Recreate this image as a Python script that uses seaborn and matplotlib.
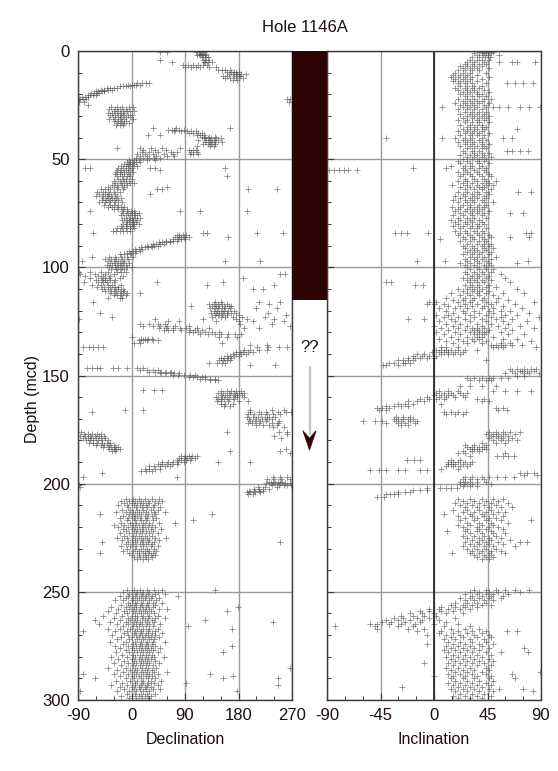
import matplotlib
matplotlib.use("Agg")
import matplotlib.pyplot as plt
import seaborn as sns
import pandas as pd
from matplotlib.ticker import MultipleLocator
from matplotlib.patches import Polygon

TITLE = "Hole 1146A"
dec_ticks = [-90, 0, 90, 180, 270]
inc_ticks = [-90, -45, 0, 45, 90]
depth_ticks = [0, 50, 100, 150, 200, 250, 300]
dark_interval = [0, 115]          # depth range of the dark column
query_label = "??"

# declination: (depth, [declinations])
dec_rows = [
    (0.3, [108, 115, 122, 48, 60]), (1.2, [113, 119, 126, 117]), (2.0, [110, 121, 116, 124]),
    (3.0, [118, 123, 128]), (4.2, [120, 126, 131, 48]), (5.3, [124, 129, 122, 68, 135]),
    (6.4, [86, 95, 104, 112, 120, 127]), (7.5, [90, 100, 108, 116, 130, 142]),
    (8.6, [145, 152, 158, 166]), (9.6, [160, 168, 172, 175, 181]),
    (10.5, [164, 170, 176, 178, 185, 192]), (11.4, [154, 160, 172, 180, 183]),
    (12.5, [158, 165, 176, 188]), (13.3, [170, 178]),
    (14.8, [10, 18, 25, 30]), (15.5, [-6, 0, 4, 8, 14]), (16.2, [-20, -14, -9, -3]),
    (17.0, [-42, -36, -30, -25]), (17.8, [-52, -47, -40, -33]), (18.6, [-60, -56, -50, -46]),
    (19.5, [-68, -63, -58, -54]), (20.3, [-74, -70, -65, -60]), (21.3, [-84, -79, -73]),
    (22.4, [-89, -86, -82, -77, 262, 267]), (23.6, [-88, -80, 265]), (24.8, [-74]),
    (26.0, [-35, -24, -16, -5, 2]), (27.0, [-38, -28, -20, -10]),
    (27.9, [-30, -22, -15, -8, -2, 4]), (28.8, [-40, -33, -25, -18, -12]),
    (29.6, [-36, -27, -20, -14, -6, 0]), (30.5, [-31, -23, -17, -10, -3]),
    (31.4, [-38, -28, -19, -12, 3]), (32.3, [-30, -22, -16, -9]),
    (33.2, [-25, -18, -13, -5]), (34.2, [-26, -20, -14]),
    (35.6, [36, 166, 75]), (36.4, [62, 68, 74, 80, 88]), (37.2, [72, 84, 94, 100, 108]),
    (38.0, [96, 104, 112, 118]), (38.8, [110, 116, 122, 48, 28]), (39.6, [118, 124, 130, 140]),
    (40.4, [122, 128, 134, 142, 150]), (41.3, [126, 132, 138, 146, 112]),
    (42.2, [124, 130, 135, 141, 152]), (43.1, [128, 134, 140, 120]), (44.0, [132, 138, 110]),
    (45.0, [-24, 14, 32, 52, 82]), (45.8, [20, 40, 58, 96, 104, 108]),
    (46.7, [18, 30, 44, 66, 76, 100, 110]), (47.6, [10, 22, 36, 54, 70, 98, 104, 112]),
    (48.5, [14, 26, 42, 60, 72]), (49.4, [8, 20, 30, 38, 48]), (50.3, [-4, 4, 12, 26, 40]),
    (51.2, [-8, -3, 2, 8, 14]), (52.1, [-12, -6, -2, 4]), (53.0, [-18, -10, -4, 2, 9]),
    (54.0, [-78, -70, -22, -14, -6, 0, 31, 40, 157]), (55.0, [-25, -17, -10, -3, 48]),
    (56.0, [-26, -19, -12, -6, 2]), (57.0, [-28, -20, -13, -4]),
    (58.0, [-24, -16, -8, -2, 160]), (59.0, [-22, -15, -9, 1]), (60.0, [-30, -20, -12, -5]),
    (61.0, [-27, -18, -10, -2, 5]), (62.0, [-33, -24, -16, -8]),
    (63.0, [-40, -30, -22, -12, 60]), (64.0, [-52, -44, -36, -24, -14, 43, 52, 196, 245]),
    (65.0, [-58, -48, -40, -30, -20]), (66.0, [-55, -45, -38, -28, 31]),
    (67.0, [-60, -50, -42, -34, -24]), (68.0, [-48, -40, -32, -26, -18]),
    (69.0, [-50, -43, -36, -30, -22]), (70.0, [-54, -44, -38, -28, -16]),
    (71.0, [-46, -36, -30, -22]), (72.0, [-40, -32, -24, -18, -12]), (73.0, [-30, -22, -14, -7]),
    (74.0, [-70, -16, -8, -1, 5, 82, 115, 194]), (75.0, [-14, -6, 0, 6, 12]),
    (76.0, [-18, -10, -3, 4, 10]), (77.0, [-12, -5, 0, 6, 14]), (78.0, [-16, -8, -2, 3, 9]),
    (79.0, [-10, -4, 2, 8]), (80.0, [-14, -7, 0, 5, 12]), (81.0, [-18, -10, -3, 3]),
    (82.0, [-24, -16, -9, -2, 4]), (83.0, [-31, -26, -20, -14, -8, -2]),
    (84.0, [-65, 120, 127, 211, 255]), (85.0, [76, 80, 86, 92]),
    (86.0, [74, 80, 84, 88, 96, 162]), (86.8, [70, 78, 83, 90]), (87.6, [58, 64, 70, 76]),
    (88.4, [46, 52, 58, 64]), (89.2, [36, 42, 48, 54]), (90.0, [26, 32, 38, 44]),
    (90.8, [16, 22, 28, 34]), (91.6, [6, 12, 18]), (92.4, [-4, 2, 8, 14]), (93.2, [-8, -1, 6]),
    (94.0, [-20, -12, -2]), (95.0, [-66, -38, -28, -18, -8, 2]), (96.0, [-44, -34, -26, -16, -6]),
    (97.0, [-83, -40, -30, -22, -12, 157, 216]), (98.0, [-36, -28, -20, -14, -4]),
    (99.0, [-42, -32, -24, -18, -10]), (100.0, [-38, -28, -22, -16, -8, 0]),
    (101.0, [-34, -26, -20, -12]), (102.0, [-89, -70, -52, -40, -24, -18, -10]),
    (103.0, [-86, -62, -44, -30, 250, 258]), (104.0, [-78, -56, -48, -36, -14]),
    (105.0, [-70, -52, -44, -38, -20, 188]), (106.0, [-60, -50, -44, -36, -28]),
    (107.0, [-80, -56, -48, -42, -30, 43, 154]), (108.0, [-66, -52, -40, -32, -18, 127, 240]),
    (109.0, [-58, -46, -36, -28, -22]), (110.0, [-50, -40, -30, -22, -14, 221, 205]),
    (111.0, [-44, -34, -26, -18, -12]), (112.0, [-36, -28, -20, -14, -8, 14]),
    (113.0, [-30, -24, -18, -10]), (114.0, [-40, -20, -16]),
    (116.0, [-64, 140, 150, 215, 250]), (117.0, [130, 138, 146, 152, 160, 232]),
    (118.0, [136, 142, 148, 156, 164, 168, 100]), (119.0, [132, 140, 146, 152, 158, 166, 210, 245]),
    (120.0, [138, 144, 150, 156, 162, 172]), (121.0, [-53, 134, 142, 148, 154, 160, 168, 176, 230]),
    (122.0, [140, 146, 152, 160, 180, 260]), (123.0, [-33, 136, 150, 158, 170, 186, 224]),
    (124.0, [-89, 40, 120, 176, 194, 240]), (125.0, [62, 80, 142, 180, 205, 256]),
    (126.0, [14, 30, 44, 56, 183, 236]), (127.0, [20, 36, 48, 60, 74, 96, 266]),
    (128.0, [46, 58, 70, 82, 92, 110, 130, 190, 215]), (129.0, [54, 62, 70, 84, 98, 106, 118]),
    (130.0, [96, 104, 112, 124, 136, 148]), (131.0, [116, 128, 140, 150, 162, 174, 184]),
    (132.0, [0, 148, 160, 178]), (133.0, [16, 22, 28, 34]), (133.8, [12, 20, 26, 36, 44]),
    (135.0, [4, 14, 152]), (136.0, [200, 228]),
    (137.0, [-81, -72, -64, -56, -48, 211, 230, 248, 262]), (138.0, [190, 200, 215, 228]),
    (139.0, [176, 182, 188, 196, 204]), (140.0, [170, 176, 184, 192]),
    (141.0, [160, 166, 172, 180]), (142.0, [150, 156, 162, 168]), (143.0, [148, 154, 160, 166]),
    (144.0, [144, 152, 158, 130]), (145.0, [200, 242]),
    (146.6, [-75, -66, -58, -53, -31, -22, -8, 9, 20]), (147.4, [14, 26, 36, 44]),
    (148.2, [30, 40, 50, 58, 66]), (149.0, [48, 56, 64, 72, 80]), (149.8, [70, 78, 88, 98, 106]),
    (150.6, [96, 104, 110, 118, 124]), (151.4, [116, 124, 132, 140]), (152.2, [132, 140, 146]),
    (156.5, [20, 38, 52]), (157.0, [150, 160, 168, 176, 184]),
    (158.0, [146, 154, 164, 172, 180, 190]), (159.0, [150, 158, 166, 174, 178, 186]),
    (160.0, [142, 152, 160, 170, 178, 190]), (161.0, [146, 150, 156, 164, 172]),
    (162.0, [144, 150, 162, 180, 196]), (163.0, [150, 158, 170]), (164.0, [156, 166]),
    (166.0, [-11, 19, 200, 236, 256]), (167.0, [-66, 200, 214, 226, 246, 260, 268]),
    (168.0, [196, 206, 218, 228, 238, 250]), (169.0, [194, 204, 212, 224, 232, 242]),
    (170.0, [198, 210, 220, 228, 236]), (171.0, [200, 208, 216, 226, 248]),
    (172.0, [196, 202, 214, 236, 246]), (173.0, [210, 222, 232, 244]), (174.0, [238, 256]),
    (176.0, [-85, 160, 248, 262]), (177.0, [-80, -74, -66, -58, -52, 262]),
    (178.0, [-86, -78, -70, -62, -54, -46, 240]), (179.0, [-82, -74, -68, -60, -52, -44, 252]),
    (180.0, [-76, -70, -64, -56, -50, -40]), (181.0, [-72, -64, -58, -50, -42, -36]),
    (182.0, [-60, -52, -46, -38, -30]), (183.0, [-48, -40, -34, -28, -22]),
    (184.0, [-38, -30, -26, -20, 260]), (185.0, [-32, -28, 166, 250]), (186.0, [266]),
    (187.0, [84, 90, 96, 102, 110]), (188.0, [80, 88, 94, 100, 106]), (189.0, [76, 84, 92, 98]),
    (190.0, [52, 62, 70, 78, 88, 146, 200]), (191.0, [44, 52, 60, 68, 76]),
    (192.0, [30, 38, 48, 56, 64]), (193.0, [22, 30, 40, 48]), (194.0, [16, 24, 34]),
    (195.0, [-50]), (197.0, [-81, 77, 238, 250, 262]), (198.0, [228, 240, 252, 266]),
    (199.0, [232, 238, 246, 254]), (199.8, [226, 234, 242, 250, 258, 266]),
    (200.6, [-89, 236, 248, 256, 262, 268]), (201.5, [-86, 212, 224, 244]),
    (202.3, [206, 214, 222, 232]), (203.2, [198, 206, 214, 222]), (204.0, [194, 200, 208, 216]),
    (205.0, [196, 204]),
    (207, [-10, 2, 12, 22, 34, 46]), (208, [-18, -4, 6, 16, 28, 40, 52]),
    (209, [-12, 0, 10, 20, 30, 44]), (210, [-22, -8, 4, 14, 24, 38]),
    (211, [-6, 8, 18, 26, 36, 48]), (212, [-16, -2, 10, 20, 32, 44]),
    (213, [-26, -10, 2, 12, 24, 38, 56]), (214, [-53, -4, 6, 16, 28, 40, 135]),
    (215, [-14, 0, 10, 22, 34]), (216, [-20, -6, 4, 14, 26, 42]),
    (217, [-8, 6, 16, 24, 36, 104]), (218, [-18, -2, 8, 20, 30, 46, 73]),
    (219, [-30, -12, 2, 12, 22, 34]), (220, [-22, -6, 6, 18, 28, 40]),
    (221, [-14, 0, 10, 20, 32, 50]), (222, [-10, 4, 14, 24, 36]),
    (223, [-20, -4, 8, 18, 30, 44]), (224, [-12, 2, 12, 22, 34]),
    (225, [-24, -8, 6, 16, 26, 40, 58]), (226, [-16, 0, 10, 20, 30, 46]),
    (227, [-50, -6, 6, 18, 28, 38, 250]), (228, [-10, 2, 14, 24, 34]),
    (229, [-18, -2, 8, 20, 32, 44]), (230, [-8, 6, 16, 26, 38]),
    (231, [-14, 2, 12, 22, 30, 42]), (232, [-53, -4, 10, 20, 28, 36]),
    (233, [0, 12, 22, 32, 40]), (234, [4, 14, 24, 34]), (235, [10, 20, 28]),
    (249, [-8, 4, 14, 26, 38, 52, 141]), (250, [-14, 0, 10, 20, 30, 44]),
    (251, [-4, 8, 18, 28, 40, 56]), (252, [-20, -6, 6, 16, 24, 34, 78]),
    (253, [-10, 2, 12, 22, 32, 46]), (254, [-28, -14, 0, 10, 20, 30, 42]),
    (255, [-6, 6, 16, 26, 36, 52]), (256, [-18, -2, 8, 18, 28, 40]),
    (257, [-34, -10, 4, 14, 24, 36, 179]), (258, [-22, -4, 8, 20, 30, 46, 60]),
    (259, [-40, -12, 2, 12, 22, 32, 160]), (260, [-26, -8, 6, 16, 26, 38]),
    (261, [-48, -16, 0, 10, 20, 30, 44]), (262, [-30, -6, 6, 18, 28, 40, 56]),
    (263, [-62, -20, -2, 10, 22, 34, 124]), (264, [-36, -10, 4, 14, 26, 38, 238]),
    (265, [-54, -24, -6, 8, 18, 30, 48]), (266, [-14, 2, 12, 24, 36, 95]),
    (267, [-40, -20, -2, 10, 20, 30, 44, 169]), (268, [-81, -28, -8, 6, 16, 28, 40]),
    (269, [-12, 4, 14, 24, 34, 52]), (270, [-32, -6, 8, 18, 28, 40]),
    (271, [-18, 0, 12, 22, 32, 46]), (272, [-24, -4, 10, 20, 30, 38]),
    (273, [-36, -10, 6, 16, 26, 36, 56]), (274, [-14, 2, 14, 24, 34]),
    (275, [-28, -6, 8, 18, 28, 40, 169]), (276, [-20, 0, 12, 22, 32, 48]),
    (277, [-10, 4, 16, 26, 36]), (278, [-26, -4, 10, 20, 30, 44, 154]),
    (279, [-16, 2, 14, 24, 34]), (280, [-34, -8, 6, 18, 28, 38, 54]),
    (281, [-22, 0, 12, 22, 32]), (282, [-12, 4, 16, 26, 40]),
    (283, [-30, -6, 8, 20, 30, 46]), (284, [-18, 2, 14, 24, 36]),
    (285, [-40, -10, 6, 18, 28, 42, 267]), (286, [-24, -2, 10, 22, 34]),
    (287, [-14, 4, 16, 26, 38, 60]), (288, [-81, -30, -6, 8, 20, 30, 44, 132]),
    (289, [-20, 0, 12, 24, 34, 171]), (290, [-61, -10, 4, 16, 28, 40, 154, 247]),
    (291, [-26, -2, 10, 20, 32, 50]), (292, [-16, 6, 18, 28, 38, 92]),
    (293, [-34, -8, 6, 16, 26, 44, 247]), (294, [-20, 0, 12, 22, 32]),
    (295, [-12, 4, 14, 24, 36, 48]), (296, [-87, -24, -4, 8, 20, 30, 177]),
    (297, [-8, 6, 16, 26, 40]), (298, [-18, 0, 12, 22, 32]), (299, [-4, 8, 18, 28]),
]

# inclination: (depth, [inclinations])
inc_rows = [
    (0.3, [38, 42, 46, 50]), (1.0, [34, 40, 44, 48]), (2.0, [36, 41, 45, 55]),
    (3.0, [32, 38, 43, 47]), (4.0, [30, 36, 40, 46]), (5.0, [28, 34, 42, 55, 66, 70, 85]),
    (6.0, [26, 32, 38, 44]), (7.0, [22, 28, 34, 40]), (8.0, [24, 30, 36, 46]),
    (9.0, [20, 26, 32, 38]), (10.0, [18, 24, 30, 44]), (11.0, [16, 22, 28, 36]),
    (12.0, [14, 20, 26, 32, 46]), (13.0, [18, 24, 30, 40]), (14.0, [16, 22, 28, 36]),
    (15.0, [20, 26, 32, 44, 61, 68, 75, 83]), (16.0, [22, 28, 34, 40]),
    (17.0, [18, 26, 32, 38]), (18.0, [20, 28, 34, 42]), (19.0, [24, 30, 36, 46]),
    (20.0, [22, 28, 36, 40]), (21.0, [26, 32, 38, 44]), (22.0, [20, 28, 34, 42, 48]),
    (23.0, [24, 30, 36, 40]), (24.0, [18, 26, 32, 38, 46]), (25.0, [22, 28, 34, 42]),
    (26.0, [7, 24, 30, 36, 44, 50, 55, 62, 72, 80, 89]), (27.0, [20, 28, 34, 40]),
    (28.0, [26, 32, 38, 44]), (29.0, [22, 30, 36, 42]), (30.0, [28, 34, 40, 46]),
    (31.0, [24, 32, 38, 44]), (32.0, [20, 28, 36, 42]), (33.0, [26, 32, 38, 46]),
    (34.0, [22, 30, 36, 40]), (35.0, [28, 34, 40, 44]), (36.0, [24, 30, 36, 42, 70]),
    (37.0, [20, 28, 34, 40]), (38.0, [26, 32, 38, 46]), (39.0, [22, 30, 36, 42]),
    (40.0, [-40, 7, 18, 26, 32, 40, 58, 66]), (41.0, [24, 30, 38, 44]),
    (42.0, [20, 28, 34, 40]), (43.0, [26, 32, 40, 46]), (44.0, [22, 30, 36, 42]),
    (45.0, [28, 34, 40, 44]), (46.0, [24, 32, 38, 61, 66, 72, 79]), (47.0, [26, 34, 40, 46]),
    (48.0, [22, 30, 36, 42]), (49.0, [28, 34, 40, 48]), (50.0, [24, 32, 38, 44]),
    (51.0, [20, 28, 36, 42]), (52.0, [22, 30, 38, 46]), (53.0, [14, 26, 32, 40]),
    (54.0, [-18, 10, 24, 30, 38, 44]), (55.0, [-88, -84, -80, -76, -72, -65, 26, 34, 42]),
    (56.0, [20, 28, 36, 44]), (57.0, [24, 30, 38, 46]), (58.0, [22, 32, 40, 48]),
    (59.0, [26, 34, 42]), (60.0, [20, 28, 36, 44, 52]), (61.0, [24, 32, 40, 46]),
    (62.0, [15, 28, 36, 44, 50]), (63.0, [22, 30, 38, 42]), (64.0, [26, 34, 40, 48]),
    (65.0, [20, 28, 36, 44, 71, 82]), (66.0, [24, 32, 38, 46]), (67.0, [18, 26, 34, 42]),
    (68.0, [22, 30, 36, 44]), (69.0, [16, 26, 32, 40]), (70.0, [20, 28, 34, 42, 50]),
    (71.0, [24, 30, 38, 44]), (72.0, [15, 22, 30, 36, 42]), (73.0, [20, 28, 34, 40]),
    (74.0, [18, 26, 32, 38, 46]), (75.0, [22, 30, 36, 42, 64, 75]), (76.0, [16, 24, 32, 40]),
    (77.0, [20, 28, 34, 44]), (78.0, [14, 22, 30, 38]), (79.0, [18, 26, 32, 40]),
    (80.0, [20, 28, 36, 42]), (81.0, [16, 24, 32, 38]), (82.0, [22, 30, 36, 44]),
    (83.0, [18, 26, 34, 40]), (84.0, [-33, -28, -23, -5, 22, 28, 36, 42, 77, 82]),
    (85.0, [20, 30, 38, 46]), (86.0, [24, 32, 40, 48, 64, 80]), (87.0, [5, 26, 34, 42]),
    (88.0, [22, 30, 38, 44]), (89.0, [28, 36, 42, 48]), (90.0, [24, 32, 40, 46]),
    (91.0, [26, 34, 42, 50]), (92.0, [30, 36, 44]), (93.0, [28, 34, 40, 48]),
    (94.0, [24, 32, 38, 46]), (95.0, [30, 36, 42, 52]), (96.0, [26, 34, 40, 48]),
    (97.0, [-14, 9, 28, 36, 44, 79]), (98.0, [22, 30, 38, 46, 70]), (99.0, [26, 34, 42, 48]),
    (100.0, [28, 36, 44]), (101.0, [30, 38, 44, 50]), (102.0, [26, 34, 40, 48]),
    (103.0, [28, 36, 42, 56]), (104.0, [32, 38, 46]), (105.0, [24, 30, 36, 44, 60]),
    (106.0, [28, 34, 40, 48]), (107.0, [-40, -36, 30, 36, 42, 64]),
    (108.0, [-16, -9, 26, 32, 38, 46]), (109.0, [30, 36, 44, 52]),
    (110.0, [20, 28, 34, 40, 70]), (111.0, [24, 32, 38, 46]),
    (112.0, [14, 28, 36, 44, 58, 76]), (113.0, [22, 30, 38, 50]),
    (114.0, [10, 26, 34, 42, 54]), (115.0, [16, 24, 32, 40, 62]),
    (116.0, [-4, 2, 20, 30, 44, 52, 84]), (117.0, [-6, 0, 8, 26, 36, 48, 68]),
    (118.0, [12, 22, 32, 42, 58]), (119.0, [4, 18, 28, 40, 50, 74]),
    (120.0, [10, 24, 34, 46, 56, 64]), (121.0, [16, 26, 38, 50, 80]),
    (122.0, [2, 12, 30, 44, 60, 70]), (123.0, [8, 20, 34, 48, 56, 88]),
    (124.0, [-22, -8, 14, 26, 40, 52, 66]), (125.0, [4, 18, 30, 44, 58, 78]),
    (126.0, [10, 22, 36, 48, 62]), (127.0, [0, 16, 28, 40, 54, 72]),
    (128.0, [6, 20, 32, 36, 42, 60, 84]), (129.0, [12, 26, 34, 38, 46, 66]),
    (130.0, [2, 18, 30, 36, 40, 44, 56]), (131.0, [8, 22, 34, 38, 42, 62, 76]),
    (132.0, [14, 28, 36, 40, 50]), (133.0, [4, 20, 32, 38, 58, 70]),
    (134.0, [10, 24, 34, 44, 82]), (135.0, [16, 28, 40, 56, 64]),
    (136.0, [48, 52, 56, 60, 66, 74]), (137.0, [6, 10, 20, 50, 54, 58, 86]),
    (138.0, [2, 6, 10, 14, 20, 26, 36]), (139.0, [-2, 4, 8, 12, 18, 24]),
    (140.0, [-14, -8, 6, 12, 16, 22]), (141.0, [-18, -10, -4, 2]),
    (142.0, [-22, -16, -12, -6, 0]), (143.0, [-30, -26, -22, -18, 44]),
    (144.0, [-38, -34, -26, -24, -20]), (145.0, [-43, -40, -30]),
    (147.0, [64, 70, 76, 82, 86]), (148.0, [66, 72, 74, 78, 84]),
    (149.0, [60, 68, 76, 80, 88]), (150.0, [70, 76]),
    (151.0, [28, 34, 40, 46, 50, 56, 62]), (152.0, [30, 38, 44, 48]),
    (155.0, [22, 30, 40, 52]), (157.0, [4, 12, 20, 50, 60, 70, 82]),
    (158.0, [2, 8, 14, 22, 28]), (159.0, [0, 6, 12, 16, 24]), (160.0, [-6, 4, 10, 18, 26]),
    (161.0, [-12, -4, 2, 8, 36, 42]), (162.0, [-22, -14, -8, 40, 46]),
    (163.0, [-30, -24, -18, 6]), (164.0, [-40, -34, -28, -22]),
    (165.0, [-48, -44, -38, 52, 58]), (166.0, [-46, -40, 54, 61]),
    (167.0, [8, 14, 20, 27]), (168.0, [10, 18, 24]), (169.0, [-32, -26, -20]),
    (170.0, [-34, -30, -26, -22, -18]), (171.0, [-60, -50, -44, -32, -28, -20, -14]),
    (172.0, [-40, -30, -24, -16]), (173.0, [-28, -22]),
    (176.0, [46, 52, 58, 64, 72]), (177.0, [44, 50, 54, 60, 68]), (178.0, [48, 52, 56, 62]),
    (179.0, [46, 54, 58, 66]), (180.0, [50, 56, 62, 70]), (181.0, [40, 52, 60]),
    (182.0, [26, 34, 44]), (183.0, [28, 32, 38, 42]), (184.0, [30, 34, 36, 40, 44]),
    (185.0, [24, 32, 38]), (186.0, [20, 26, 60]), (187.0, [30, 53, 58, 62, 67]),
    (189.0, [-23, -17, -12, 14, 22]), (190.0, [12, 16, 20, 26, 32]),
    (191.0, [12, 14, 18, 24, 30]), (192.0, [10, 16, 22, 28]), (193.0, [6, 20]),
    (193.7, [-54, -46, -40, -30, -24, -12, -6]), (195.0, [72, 78, 84]), (196.0, [76, 87]),
    (197.0, [26, 32, 40, 46, 53, 60, 67]), (198.0, [24, 30, 36, 42]),
    (199.0, [22, 26, 30, 36, 44]), (200.0, [22, 25, 28, 32, 48]), (201.0, [24, 30, 36]),
    (202.0, [-6, 5, 10, 14, 19]), (203.0, [-18, -12, -6]), (204.0, [-30, -24, -20]),
    (205.0, [-40, -37, -34, -30]), (206.0, [-48, -42]),
    (207, [20, 30, 40, 50, 58]), (208, [24, 34, 44, 54]), (209, [18, 28, 38, 48, 62]),
    (210, [22, 32, 42, 52]), (211, [26, 36, 46, 56, 66]), (212, [16, 28, 38, 48]),
    (213, [24, 34, 44, 54, 60]), (214, [8, 30, 40, 50]), (215, [20, 32, 42, 58]),
    (216, [26, 36, 46, 52]), (217, [22, 34, 44, 56, 82]), (218, [28, 38, 48, 62]),
    (219, [20, 30, 40, 50]), (220, [24, 36, 46, 54]), (221, [28, 38, 44, 58]),
    (222, [11, 26, 36, 48]), (223, [30, 40, 50, 60]), (224, [24, 34, 42, 52]),
    (225, [28, 38, 46, 56]), (226, [32, 40, 48, 64]), (227, [26, 36, 44, 54, 72, 78]),
    (228, [30, 38, 46, 58]), (229, [24, 34, 42, 50, 68]), (230, [28, 36, 44, 52]),
    (231, [32, 40, 48, 56]), (232, [15, 30, 38, 46, 60]), (233, [34, 42, 48]),
    (234, [36, 44, 50]), (235, [40, 46]),
    (249, [34, 44, 52, 60, 68, 80]), (250, [30, 38, 46, 54, 72]), (251, [26, 36, 44, 50, 62]),
    (252, [32, 40, 48, 58]), (253, [22, 30, 38, 46, 56]), (254, [26, 34, 42, 50]),
    (255, [18, 28, 36, 44]), (256, [14, 24, 32, 40, 48]), (257, [6, 18, 26, 36]),
    (258, [-4, 4, 12, 22, 30]), (259, [-12, -4, 6, 16]), (260, [-20, -10, 0, 10, 24]),
    (261, [-28, -18, -8, 2]), (262, [-34, -26, -14, -4, 18]), (263, [-40, -30, -20, -10, 4]),
    (264, [-44, -36, -24, -12, 10]), (265, [-54, -48, -38, -28, -16, 0, 20]),
    (266, [-83, -50, -30, -18, 8, 30]), (267, [-48, -22, -8, 14, 26, 38]),
    (268, [-14, 6, 20, 32, 44, 61, 70]), (269, [4, 16, 28, 40]), (270, [-6, 10, 22, 34, 46]),
    (271, [14, 24, 36, 48]), (272, [8, 18, 30, 42]), (273, [12, 22, 32, 44]),
    (274, [-6, 16, 26, 38, 50]), (275, [10, 20, 30, 40]), (276, [14, 24, 34, 46, 76]),
    (277, [8, 18, 28, 38]), (278, [12, 22, 32, 44, 56, 79]), (279, [16, 26, 36, 48]),
    (280, [10, 20, 30, 40]), (281, [14, 24, 34, 46]), (282, [18, 28, 38, 50]),
    (283, [-8, 12, 22, 32, 42]), (284, [16, 26, 36, 48]), (285, [10, 20, 30, 44]),
    (286, [14, 24, 34, 46]), (287, [18, 28, 40, 89]), (288, [12, 22, 32, 44, 66]),
    (289, [0, 16, 26, 36, 48]), (290, [14, 24, 34, 46, 68]), (291, [18, 28, 38, 50]),
    (292, [12, 22, 32, 44]), (293, [16, 26, 36, 48]), (294, [-27, 20, 30, 40]),
    (295, [14, 24, 34, 46, 55, 75]), (296, [18, 28, 38, 50, 83]), (297, [22, 32, 42]),
    (298, [16, 26, 36, 48]), (299, [20, 30, 40]),
]


def expand(rows, name):
    return pd.DataFrame([(d, v) for d, vals in rows for v in vals], columns=["depth", name])


dec_df = expand(dec_rows, "declination")
inc_df = expand(inc_rows, "inclination")

sns.set_theme(style="white")
plt.rcParams["font.family"] = ["Liberation Sans", "DejaVu Sans"]
TXT = "#1e0f0f"
GRID = "#9a9a9a"
SPINE = "#3a3a3a"
PT = "#505050"

W, H = 558, 771
fig = plt.figure(figsize=(W / 100, H / 100), dpi=100)
ax1 = fig.add_axes([78 / W, 71 / H, 214 / W, 649 / H])
axm = fig.add_axes([292 / W, 71 / H, 35 / W, 649 / H])
ax2 = fig.add_axes([327 / W, 71 / H, 214 / W, 649 / H])

pt_kw = dict(marker="+", color=PT, s=13, linewidth=0.55, alpha=0.72, legend=False)
sns.scatterplot(data=dec_df, x="declination", y="depth", ax=ax1, **pt_kw)
sns.scatterplot(data=inc_df, x="inclination", y="depth", ax=ax2, **pt_kw)

for ax, ticks, minor, label in [(ax1, dec_ticks, 30, "Declination"), (ax2, inc_ticks, 15, "Inclination")]:
    ax.set_xlim(ticks[0], ticks[-1])
    ax.set_ylim(300, 0)
    ax.set_xticks(ticks)
    ax.set_xticklabels([str(t) for t in ticks])
    ax.set_yticks(depth_ticks)
    ax.xaxis.set_minor_locator(MultipleLocator(minor))
    ax.yaxis.set_minor_locator(MultipleLocator(10))
    ax.grid(True, which="major", color=GRID, linewidth=1.0)
    ax.set_axisbelow(True)
    ax.tick_params(which="major", direction="in", length=5, width=0.8, color=SPINE,
                   labelsize=12, labelcolor=TXT, pad=6, bottom=True, left=True)
    ax.tick_params(which="minor", direction="in", length=3, width=0.7, color=SPINE,
                   bottom=True, left=True)
    for s in ax.spines.values():
        s.set_color(SPINE)
        s.set_linewidth(1.0)
    ax.set_xlabel(label, fontsize=11.5, color=TXT, labelpad=6)

ax1.set_ylabel("Depth (mcd)", fontsize=11.5, color=TXT)
ax1.yaxis.set_label_coords(-0.178, 0.464)
ax2.set_ylabel("")
ax2.tick_params(labelleft=False)
ax2.axvline(0, color="#2a2a2a", linewidth=1.3, zorder=1.5)

# middle column
axm.set_xlim(0, 1)
axm.set_ylim(300, 0)
axm.axis("off")
axm.fill_between([0, 1], dark_interval[0], dark_interval[1], color="#2e0303", linewidth=0)
axm.text(0.5, 137, query_label, ha="center", va="center", fontsize=12, color=TXT)
axm.plot([0.5, 0.5], [145.5, 177.5], color="#c4c4c4", linewidth=1.6, solid_capstyle="butt")
axm.add_patch(Polygon([[0.31, 175.5], [0.5, 179.0], [0.69, 175.5], [0.5, 184.5]],
                      closed=True, facecolor="#2e0303", edgecolor="#2e0303", linewidth=0.5))

fig.text(305 / W, 1 - 28 / H, TITLE, ha="center", va="center", fontsize=12, color=TXT)

fig.savefig("out.png", dpi=100)
